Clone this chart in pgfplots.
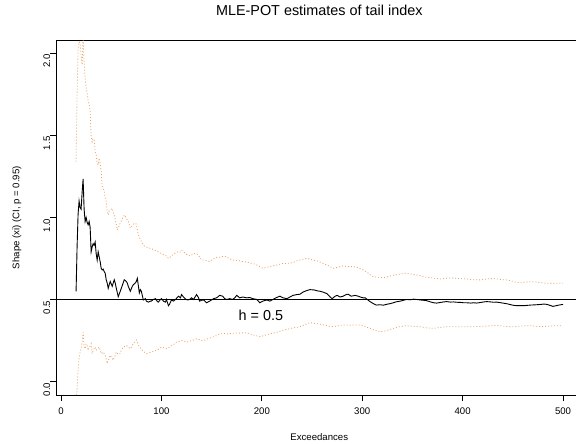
\documentclass[border=0pt]{standalone}
\usepackage{pgfplots}
\pgfplotsset{compat=1.18}
\usepackage{fontspec}
\setmainfont{Liberation Sans}
\definecolor{ciorange}{RGB}{230,166,112}
\begin{document}
\begin{tikzpicture}
\useasboundingbox (0,0) rectangle (576bp,444bp);
\begin{axis}[
  at={(56.3bp,49bp)}, anchor=south west,
  scale only axis, width=519.7bp, height=354.7bp,
  xmin=-4.7, xmax=512.9, ymin=-0.082, ymax=2.079,
  axis x line*=box, axis y line*=left,
  axis line style={line width=0.9bp, -},
  xtick={0,100,...,500}, ytick={0,0.5,...,2},
  xtick pos=bottom, ytick pos=left,
  tick align=outside, major tick length=6bp,
  tick style={line width=0.8bp, black},
  /pgf/number format/assume math mode=true,
  /pgf/number format/.cd, fixed, fixed zerofill, precision=1, /pgfplots/.cd,
  xticklabel={\pgfmathprintnumber[fixed,precision=0]{\tick}},
  ticklabel style={font=\fontsize{9.6bp}{11bp}\selectfont},
  yticklabel style={rotate=90, anchor=south, inner sep=0pt, xshift=-8bp},
  xticklabel style={inner sep=0pt, yshift=-7bp},
  title={MLE-POT estimates of tail index},
  title style={at={(axis description cs:0.506,1.0685)}, anchor=center, font=\fontsize{14.4bp}{16bp}\selectfont},
  xlabel={Exceedances},
  xlabel style={at={(axis description cs:0.506,-0.1184)}, anchor=center, font=\fontsize{9.6bp}{11bp}\selectfont},
  ylabel={Shape (xi) (CI, p = 0.95)},
  ylabel style={at={(axis description cs:-0.0756,0.5)}, anchor=center, rotate=0, font=\fontsize{9.6bp}{11bp}\selectfont},
  clip=true,
]
% upper CI
\addplot[ciorange, line width=0.8bp, dash pattern=on 1bp off 2bp] coordinates {
(15,1.34)(16,1.75)(17,2.03)(18,2.07)(19,2.06)(20,1.99)(21,1.93)(22,2.10)(23,1.95)(24,1.85)(25,1.79)(26,1.76)(27,1.71)(28,1.69)(29,1.65)(30,1.50)(31,1.46)(32,1.48)(33,1.47)(34,1.40)(35,1.38)(36,1.33)(37,1.32)(38,1.36)(39,1.33)(40,1.28)(41,1.19)(42,1.18)(43,1.16)(44,1.12)(45,1.096)(46,1.04)(47,1.015)(48,1.04)(49,1.045)(50,1.05)(51,1.055)(52,1.03)(53,1.015)(55,0.96)(56,0.924)(58,0.95)(59,0.965)(61,0.99)(63,1.015)(65,0.995)(67,0.975)(69,0.934)(71,0.95)(73,0.965)(75,0.96)(77,0.893)(80,0.853)(82,0.83)(84,0.822)(87,0.815)(90,0.81)(93,0.80)(96,0.795)(98,0.785)(100,0.78)(103,0.77)(105,0.765)(107,0.75)(110,0.765)(113,0.78)(116,0.79)(118,0.785)(120,0.80)(123,0.785)(126,0.77)(129,0.765)(132,0.78)(135,0.78)(138,0.76)(140,0.74)(143,0.74)(146,0.735)(148,0.73)(151,0.745)(155,0.755)(158,0.757)(161,0.762)(163,0.765)(166,0.755)(169,0.745)(172,0.74)(175,0.738)(178,0.735)(182,0.73)(185,0.728)(188,0.722)(191,0.72)(195,0.71)(198,0.70)(201,0.69)(205,0.695)(208,0.70)(211,0.705)(215,0.71)(218,0.715)(221,0.72)(225,0.72)(228,0.722)(231,0.725)(235,0.735)(238,0.74)(241,0.745)(245,0.751)(248,0.745)(251,0.74)(255,0.735)(258,0.728)(261,0.72)(265,0.71)(268,0.70)(271,0.69)(275,0.695)(278,0.70)(281,0.705)(285,0.70)(288,0.70)(291,0.70)(295,0.695)(298,0.688)(301,0.68)(305,0.665)(308,0.65)(311,0.639)(315,0.636)(318,0.635)(321,0.633)(325,0.638)(328,0.643)(331,0.648)(334,0.65)(338,0.655)(341,0.658)(344,0.66)(348,0.656)(351,0.652)(354,0.65)(358,0.645)(361,0.64)(364,0.636)(368,0.633)(371,0.63)(374,0.628)(378,0.625)(381,0.627)(384,0.63)(388,0.631)(391,0.63)(394,0.628)(398,0.627)(401,0.626)(404,0.625)(408,0.622)(411,0.62)(414,0.62)(418,0.619)(421,0.622)(424,0.625)(428,0.627)(431,0.627)(434,0.625)(438,0.622)(441,0.62)(444,0.619)(448,0.614)(451,0.608)(454,0.604)(458,0.602)(461,0.604)(464,0.607)(468,0.608)(471,0.608)(474,0.605)(478,0.602)(481,0.6)(484,0.599)(488,0.598)(491,0.597)(494,0.599)(497,0.60)(500,0.599)
};
% lower CI
\addplot[ciorange, line width=0.8bp, dash pattern=on 1bp off 2bp] coordinates {
(15,-0.12)(16,-0.05)(17,0.08)(18,0.14)(19,0.18)(20,0.20)(21,0.24)(22,0.30)(23,0.22)(24,0.20)(25,0.23)(26,0.22)(27,0.19)(28,0.21)(29,0.215)(30,0.23)(31,0.17)(32,0.19)(33,0.20)(34,0.21)(35,0.19)(36,0.20)(38,0.21)(40,0.17)(42,0.18)(44,0.16)(45,0.14)(46,0.11)(47,0.125)(49,0.16)(50,0.15)(52,0.13)(54,0.16)(55,0.18)(57,0.165)(59,0.17)(60,0.19)(62,0.21)(64,0.215)(65,0.22)(67,0.21)(69,0.20)(71,0.22)(72,0.23)(74,0.245)(75,0.253)(76,0.24)(78,0.21)(80,0.20)(81,0.19)(83,0.18)(85,0.17)(88,0.175)(90,0.18)(93,0.185)(95,0.19)(98,0.20)(100,0.21)(103,0.205)(105,0.20)(108,0.21)(110,0.22)(113,0.23)(115,0.24)(118,0.245)(120,0.25)(123,0.245)(125,0.24)(128,0.245)(130,0.25)(133,0.255)(135,0.26)(138,0.255)(140,0.25)(142,0.25)(145,0.258)(148,0.265)(152,0.273)(155,0.28)(158,0.29)(162,0.293)(165,0.29)(168,0.292)(172,0.294)(175,0.296)(178,0.295)(182,0.297)(185,0.298)(188,0.29)(191,0.285)(195,0.278)(198,0.273)(201,0.278)(205,0.285)(208,0.29)(211,0.294)(215,0.30)(218,0.306)(221,0.312)(225,0.318)(228,0.322)(231,0.327)(235,0.33)(238,0.334)(241,0.342)(245,0.352)(248,0.359)(251,0.356)(255,0.352)(258,0.35)(261,0.346)(265,0.34)(268,0.336)(271,0.334)(275,0.338)(278,0.342)(281,0.344)(285,0.345)(288,0.343)(291,0.344)(295,0.345)(298,0.345)(301,0.34)(305,0.33)(308,0.324)(311,0.316)(315,0.308)(318,0.304)(321,0.306)(325,0.312)(328,0.318)(331,0.324)(334,0.33)(338,0.335)(341,0.338)(344,0.34)(348,0.338)(351,0.336)(354,0.335)(358,0.334)(361,0.33)(364,0.327)(368,0.325)(371,0.324)(374,0.327)(378,0.33)(381,0.332)(384,0.334)(388,0.334)(391,0.334)(394,0.334)(398,0.334)(401,0.334)(404,0.334)(408,0.334)(411,0.334)(414,0.335)(418,0.336)(421,0.337)(424,0.338)(428,0.34)(431,0.341)(434,0.342)(438,0.34)(441,0.337)(444,0.336)(448,0.334)(451,0.334)(454,0.336)(458,0.338)(461,0.34)(464,0.34)(468,0.34)(471,0.338)(474,0.336)(478,0.334)(481,0.335)(484,0.337)(488,0.338)(491,0.34)(494,0.34)(497,0.34)(500,0.34)
};
% estimate
\addplot[black, line width=0.9bp] coordinates {
(15,0.55)(16,0.82)(17,1.02)(18,1.10)(19,1.06)(20,1.05)(21,1.15)(22,1.235)(23,1.05)(24,0.975)(25,1.0)(26,0.97)(27,0.955)(28,0.975)(29,0.94)(30,0.79)(31,0.82)(32,0.84)(33,0.83)(34,0.85)(35,0.78)(36,0.74)(37,0.79)(38,0.76)(39,0.73)(40,0.69)(41,0.68)(42,0.685)(43,0.67)(44,0.66)(45,0.62)(46,0.60)(47,0.568)(48,0.59)(49,0.61)(50,0.595)(51,0.58)(52,0.60)(53,0.62)(54,0.60)(55,0.57)(57,0.517)(59,0.55)(61,0.585)(63,0.62)(65,0.61)(66,0.60)(67,0.58)(69,0.55)(71,0.58)(72,0.59)(74,0.60)(75,0.61)(76,0.629)(78,0.54)(79,0.56)(80,0.55)(82,0.497)(84,0.505)(85,0.49)(87,0.484)(89,0.49)(90,0.49)(92,0.50)(94,0.505)(96,0.487)(97,0.484)(99,0.50)(100,0.505)(102,0.49)(104,0.484)(105,0.50)(107,0.462)(108,0.47)(110,0.497)(112,0.49)(114,0.50)(117,0.52)(119,0.51)(120,0.53)(122,0.515)(124,0.502)(126,0.497)(128,0.50)(130,0.51)(132,0.50)(135,0.53)(137,0.51)(138,0.49)(140,0.495)(142,0.497)(145,0.48)(148,0.49)(152,0.505)(155,0.51)(158,0.525)(161,0.52)(163,0.505)(165,0.50)(168,0.505)(171,0.50)(173,0.51)(175,0.525)(178,0.51)(181,0.515)(185,0.51)(188,0.512)(191,0.505)(195,0.50)(198,0.48)(201,0.49)(205,0.497)(208,0.49)(211,0.50)(214,0.51)(218,0.52)(221,0.51)(225,0.505)(228,0.515)(231,0.525)(235,0.53)(238,0.532)(241,0.545)(245,0.555)(248,0.56)(252,0.558)(255,0.553)(258,0.55)(261,0.545)(265,0.535)(268,0.515)(270,0.505)(273,0.52)(275,0.525)(278,0.515)(281,0.52)(284,0.53)(286,0.532)(289,0.52)(293,0.525)(296,0.52)(298,0.515)(301,0.51)(303,0.51)(306,0.495)(308,0.486)(311,0.475)(314,0.466)(318,0.468)(321,0.465)(324,0.47)(328,0.475)(331,0.48)(334,0.486)(338,0.49)(341,0.495)(344,0.50)(348,0.498)(351,0.502)(354,0.50)(358,0.497)(361,0.495)(364,0.493)(368,0.485)(371,0.48)(374,0.478)(378,0.482)(381,0.485)(384,0.487)(388,0.484)(391,0.485)(394,0.483)(398,0.482)(401,0.48)(404,0.48)(408,0.478)(411,0.48)(414,0.478)(418,0.482)(421,0.485)(424,0.487)(428,0.485)(431,0.483)(434,0.484)(438,0.48)(441,0.477)(444,0.474)(448,0.468)(451,0.464)(454,0.462)(458,0.463)(461,0.462)(464,0.464)(468,0.466)(471,0.467)(474,0.468)(478,0.47)(481,0.472)(484,0.47)(488,0.462)(490,0.458)(493,0.462)(496,0.466)(500,0.47)
};
% h line
\addplot[black, line width=1.5bp] coordinates {(-4.7,0.5)(512.9,0.5)};
\node[font=\fontsize{14.4bp}{16bp}\selectfont] at (axis cs:199,0.405) {h = 0.5};
\end{axis}
\end{tikzpicture}
\end{document}
